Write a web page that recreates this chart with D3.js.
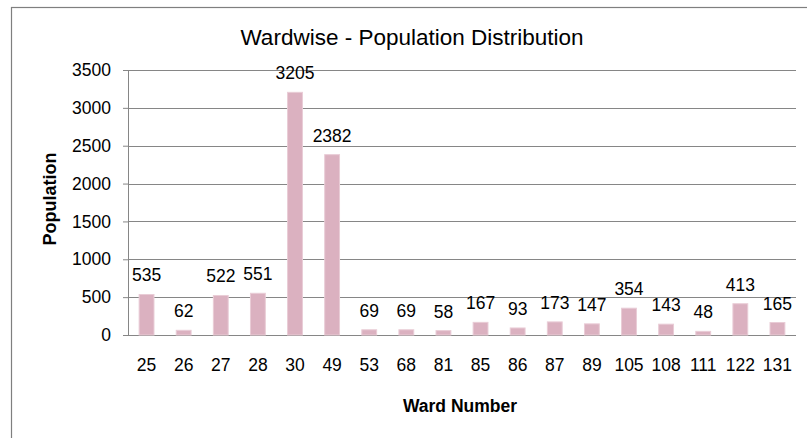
<!DOCTYPE html>
<html>
<head>
<meta charset="utf-8">
<script src="https://cdn.jsdelivr.net/npm/d3@7"></script>
<style>
  body { margin: 0; background: #fff; }
  text { font-family: "Liberation Sans", Arial, sans-serif; fill: #000; }
</style>
</head>
<body>
<script>
// ward numbers and population per ward
var wards = ['25', '26', '27', '28', '30', '49', '53', '68', '81', '85', '86', '87', '89', '105', '108', '111', '122', '131'];
var population = [535, 62, 522, 551, 3205, 2382, 69, 69, 58, 167, 93, 173, 147, 354, 143, 48, 413, 165];
var yTicks = [0, 500, 1000, 1500, 2000, 2500, 3000, 3500];

var width = 807, height = 438;
var margin = {left: 128, right: 11, top: 70, bottom: 103};

var svg = d3.select('body').append('svg')
    .attr('width', width)
    .attr('height', height);

// chart border
svg.append('rect')
    .attr('x', 11.5).attr('y', 7.5)
    .attr('width', width).attr('height', height)
    .attr('fill', 'none')
    .attr('stroke', '#7f7f7f')
    .attr('stroke-width', 1.2);

var x = d3.scaleBand()
    .domain(wards)
    .range([margin.left, width - margin.right])
    .paddingInner(0.6)
    .paddingOuter(0.3);

var y = d3.scaleLinear()
    .domain([0, 3500])
    .range([height - margin.bottom, margin.top]);

// gridlines + y axis
var yAxis = svg.append('g')
    .attr('transform', 'translate(' + margin.left + ',0)')
    .call(d3.axisLeft(y).tickValues(yTicks).tickSize(5).tickPadding(12)
        .tickFormat(d3.format('d')));
yAxis.select('.domain').attr('stroke', '#868686');
yAxis.selectAll('.tick line').attr('stroke', '#868686');
yAxis.selectAll('.tick text').style('font-size', '17.5px');

svg.append('g').selectAll('line')
    .data(yTicks)
    .enter().append('line')
    .attr('x1', margin.left)
    .attr('x2', width - margin.right)
    .attr('y1', function (d) { return Math.round(y(d)) + 0.5; })
    .attr('y2', function (d) { return Math.round(y(d)) + 0.5; })
    .attr('stroke', '#868686');

// x axis labels
var xAxis = svg.append('g')
    .attr('transform', 'translate(0,' + (height - margin.bottom) + ')')
    .call(d3.axisBottom(x).tickSize(0).tickPadding(24));
xAxis.select('.domain').remove();
xAxis.selectAll('.tick text').style('font-size', '17.5px');

// bars
svg.append('g').selectAll('rect')
    .data(population)
    .enter().append('rect')
    .attr('x', function (d, i) { return x(wards[i]); })
    .attr('width', x.bandwidth())
    .attr('y', function (d) { return y(d); })
    .attr('height', function (d) { return y(0) - y(d); })
    .attr('fill', '#dbb1c0')
    .attr('stroke', '#e9ccd6')
    .attr('stroke-width', 1);

// value labels
svg.append('g').selectAll('text')
    .data(population)
    .enter().append('text')
    .attr('x', function (d, i) { return x(wards[i]) + x.bandwidth() / 2; })
    .attr('y', function (d) { return y(d) - 13; })
    .attr('text-anchor', 'middle')
    .style('font-size', '17.5px')
    .text(function (d) { return d; });

// titles
svg.append('text')
    .attr('x', 412).attr('y', 45)
    .attr('text-anchor', 'middle')
    .style('font-size', '22.5px')
    .text('Wardwise - Population Distribution');

svg.append('text')
    .attr('transform', 'translate(56,199) rotate(-90)')
    .attr('text-anchor', 'middle')
    .style('font-size', '18px')
    .style('font-weight', 'bold')
    .text('Population');

svg.append('text')
    .attr('x', 460).attr('y', 412)
    .attr('text-anchor', 'middle')
    .style('font-size', '17.5px')
    .style('font-weight', 'bold')
    .text('Ward Number');
</script>
</body>
</html>
